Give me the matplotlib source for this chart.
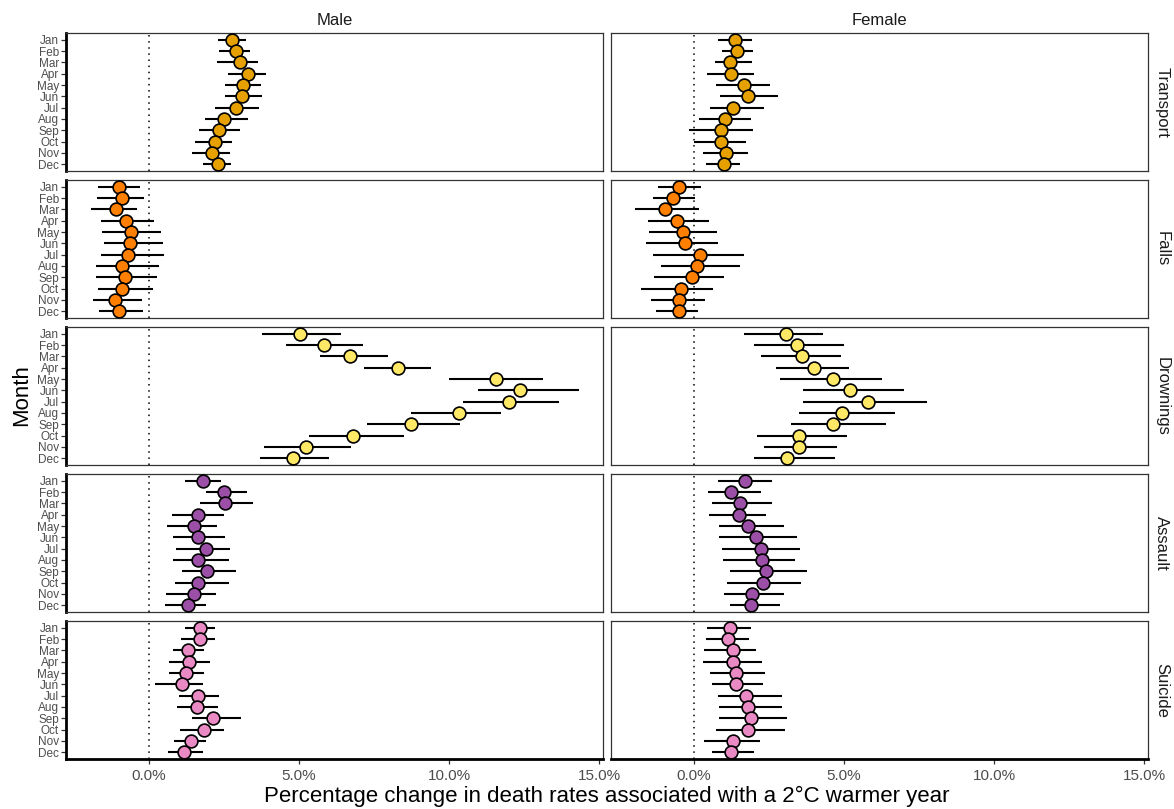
import matplotlib
matplotlib.use("Agg")
import matplotlib.pyplot as plt
import numpy as np

plt.rcParams["font.family"] = ["Liberation Sans", "DejaVu Sans"]

months = ["Jan", "Feb", "Mar", "Apr", "May", "Jun", "Jul", "Aug", "Sep", "Oct", "Nov", "Dec"]
causes = ["Transport", "Falls", "Drownings", "Assault", "Suicide"]
sexes = ["Male", "Female"]
colors = {"Transport": "#E6A100", "Falls": "#FF7F00", "Drownings": "#FFE866",
          "Assault": "#9B4FA6", "Suicide": "#E98AC4"}

# Male
transport_male_est = [2.77, 2.90, 3.03, 3.31, 3.13, 3.09, 2.91, 2.51, 2.34, 2.18, 2.10, 2.31]
transport_male_lo = [2.28, 2.33, 2.26, 2.62, 2.54, 2.52, 2.20, 1.87, 1.67, 1.54, 1.43, 1.79]
transport_male_hi = [3.23, 3.37, 3.64, 3.89, 3.73, 3.76, 3.66, 3.31, 3.04, 2.77, 2.70, 2.74]
falls_male_est = [-0.99, -0.91, -1.12, -0.77, -0.62, -0.64, -0.69, -0.89, -0.79, -0.92, -1.13, -0.99]
falls_male_lo = [-1.71, -1.73, -1.94, -1.62, -1.56, -1.51, -1.59, -1.77, -1.78, -1.71, -1.87, -1.66]
falls_male_hi = [-0.30, -0.17, -0.40, 0.17, 0.39, 0.46, 0.48, 0.34, 0.26, 0.12, -0.23, -0.19]
drown_male_est = [5.03, 5.84, 6.70, 8.31, 11.57, 12.37, 11.99, 10.32, 8.72, 6.80, 5.24, 4.78]
drown_male_lo = [3.76, 4.56, 5.70, 7.17, 10.00, 10.96, 10.47, 8.73, 7.26, 5.33, 3.83, 3.68]
drown_male_hi = [6.41, 7.14, 7.97, 9.39, 13.14, 14.33, 13.67, 11.74, 10.37, 8.49, 6.74, 5.98]
assault_male_est = [1.79, 2.51, 2.54, 1.64, 1.48, 1.64, 1.88, 1.64, 1.92, 1.64, 1.48, 1.28]
assault_male_lo = [1.21, 1.90, 1.68, 0.77, 0.60, 0.79, 0.90, 0.78, 1.10, 0.86, 0.57, 0.52]
assault_male_hi = [2.39, 3.26, 3.47, 2.51, 2.27, 2.52, 2.70, 2.67, 2.90, 2.66, 2.24, 1.90]
suicide_male_est = [1.69, 1.68, 1.31, 1.33, 1.22, 1.09, 1.63, 1.61, 2.14, 1.82, 1.38, 1.17]
suicide_male_lo = [1.20, 1.07, 0.81, 0.66, 0.66, 0.20, 0.98, 0.94, 1.43, 1.02, 0.83, 0.64]
suicide_male_hi = [2.18, 2.19, 1.84, 2.03, 1.84, 1.81, 2.32, 2.28, 3.06, 2.51, 1.89, 1.81]

# Female
transport_female_est = [1.36, 1.42, 1.20, 1.22, 1.67, 1.79, 1.31, 1.04, 0.91, 0.89, 1.06, 1.00]
transport_female_lo = [0.81, 0.92, 0.69, 0.44, 0.72, 0.87, 0.52, 0.16, -0.16, 0.01, 0.30, 0.38]
transport_female_hi = [1.94, 1.96, 1.92, 2.00, 2.53, 2.79, 2.33, 1.88, 1.97, 1.74, 1.81, 1.54]
falls_female_est = [-0.51, -0.72, -0.96, -0.56, -0.38, -0.31, 0.20, 0.09, -0.08, -0.43, -0.51, -0.49]
falls_female_lo = [-1.22, -1.38, -1.97, -1.54, -1.49, -1.59, -1.38, -1.11, -1.33, -1.76, -1.43, -1.26]
falls_female_hi = [0.24, 0.04, 0.16, 0.49, 0.76, 0.80, 1.67, 1.54, 1.01, 0.64, 0.36, 0.13]
drown_female_est = [3.07, 3.44, 3.61, 4.00, 4.64, 5.18, 5.79, 4.92, 4.62, 3.50, 3.51, 3.10]
drown_female_lo = [1.67, 1.99, 2.23, 2.72, 2.87, 3.63, 3.62, 3.50, 3.23, 2.11, 2.33, 1.98]
drown_female_hi = [4.28, 5.00, 4.90, 5.17, 6.26, 7.00, 7.76, 6.71, 6.40, 5.11, 4.76, 4.70]
assault_female_est = [1.71, 1.22, 1.53, 1.49, 1.79, 2.07, 2.22, 2.26, 2.39, 2.29, 1.93, 1.90]
assault_female_lo = [0.81, 0.46, 0.60, 0.51, 0.84, 0.83, 0.94, 0.96, 1.21, 1.10, 1.00, 1.19]
assault_female_hi = [2.60, 2.24, 2.60, 2.40, 3.00, 3.44, 3.53, 3.37, 3.76, 3.56, 2.98, 2.87]
suicide_female_est = [1.18, 1.13, 1.29, 1.29, 1.38, 1.38, 1.72, 1.81, 1.89, 1.81, 1.30, 1.23]
suicide_female_lo = [0.44, 0.40, 0.34, 0.29, 0.53, 0.60, 0.79, 0.84, 0.82, 0.74, 0.34, 0.59]
suicide_female_hi = [1.89, 1.84, 2.06, 2.26, 2.36, 2.30, 2.92, 2.94, 3.09, 3.04, 2.20, 1.98]

data = {
    ("Transport", "Male"): (transport_male_est, transport_male_lo, transport_male_hi),
    ("Falls", "Male"): (falls_male_est, falls_male_lo, falls_male_hi),
    ("Drownings", "Male"): (drown_male_est, drown_male_lo, drown_male_hi),
    ("Assault", "Male"): (assault_male_est, assault_male_lo, assault_male_hi),
    ("Suicide", "Male"): (suicide_male_est, suicide_male_lo, suicide_male_hi),
    ("Transport", "Female"): (transport_female_est, transport_female_lo, transport_female_hi),
    ("Falls", "Female"): (falls_female_est, falls_female_lo, falls_female_hi),
    ("Drownings", "Female"): (drown_female_est, drown_female_lo, drown_female_hi),
    ("Assault", "Female"): (assault_female_est, assault_female_lo, assault_female_hi),
    ("Suicide", "Female"): (suicide_female_est, suicide_female_lo, suicide_female_hi),
}

xticks = [0, 5, 10, 15]
xticklabels = ["0.0%", "5.0%", "10.0%", "15.0%"]

W, H = 1174, 809
fig = plt.figure(figsize=(W / 100, H / 100), dpi=100)
fig.patch.set_facecolor("white")

col_x = [66, 611]
col_w = 537
row_top = [33, 180, 327, 474, 621]
row_h = 138
xlim = (-2.77, 15.13)
ypos = np.arange(len(months))

for r, cause in enumerate(causes):
    for c, sex in enumerate(sexes):
        ax = fig.add_axes([col_x[c] / W, 1 - (row_top[r] + row_h) / H, col_w / W, row_h / H])
        est, lo, hi = data[(cause, sex)]
        ax.axvline(0, color="black", linestyle=(0, (1, 3)), linewidth=1.1, zorder=1)
        ax.hlines(ypos, lo, hi, color="black", linewidth=1.5, zorder=2)
        ax.plot(est, ypos, "o", markersize=9.2, markerfacecolor=colors[cause],
                markeredgecolor="black", markeredgewidth=1.2, zorder=3)
        ax.set_xlim(*xlim)
        ax.set_ylim(len(months) - 0.4, -0.6)
        for s in ax.spines.values():
            s.set_color("#333333")
            s.set_linewidth(0.9)
        ax.set_xticks(xticks)
        ax.set_yticks(ypos)
        ax.tick_params(axis="both", colors="#333333", length=3.5, width=0.9)
        if r == len(causes) - 1:
            ax.set_xticklabels(xticklabels, fontsize=11, color="#4D4D4D")
            ax.spines["bottom"].set_linewidth(2.0)
            ax.spines["bottom"].set_color("black")
        else:
            ax.tick_params(axis="x", length=0, labelbottom=False)
        if c == 0:
            ax.set_yticklabels(months, fontsize=8.5, color="#4D4D4D")
            ax.tick_params(axis="y", pad=1.5)
            ax.spines["left"].set_linewidth(2.0)
            ax.spines["left"].set_color("black")
        else:
            ax.tick_params(axis="y", length=0, labelleft=False)
        if r == 0:
            ax.set_title(sex, fontsize=12, color="#1A1A1A", pad=6)
        if c == 1:
            ax.text(1.012, 0.5, cause, transform=ax.transAxes, rotation=270,
                    ha="left", va="center", fontsize=12, color="#1A1A1A")

fig.text(607 / W, 1 - 796 / H, "Percentage change in death rates associated with a 2\u00b0C warmer year",
         ha="center", va="center", fontsize=16, color="black")
fig.text(22 / W, 1 - 395 / H, "Month", ha="center", va="center", rotation=90,
         fontsize=16, color="black")

fig.savefig("out.png", dpi=100)
